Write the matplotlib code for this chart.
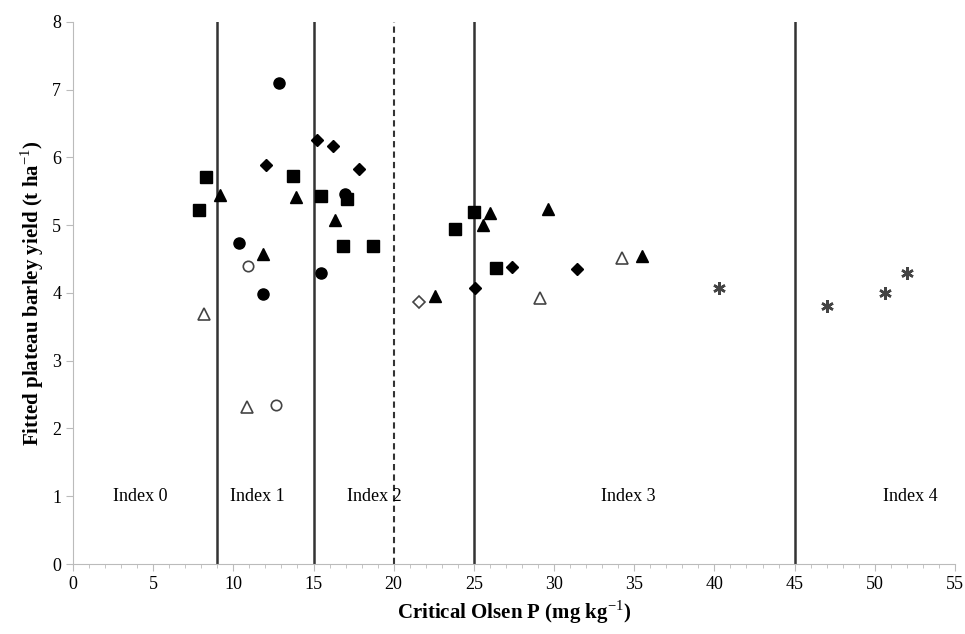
import matplotlib
matplotlib.use('Agg')
import matplotlib.pyplot as plt
from matplotlib.ticker import MultipleLocator

plt.rcParams['font.family'] = ['Liberation Serif', 'DejaVu Serif']
plt.rcParams['mathtext.fontset'] = 'custom'
plt.rcParams['mathtext.rm'] = 'Liberation Serif'
plt.rcParams['mathtext.bf'] = 'Liberation Serif:bold'

# critical Olsen P (x) and plateau yield (y) per site group
sq_x = [7.86, 8.29, 13.72, 15.46, 17.1, 16.83, 18.7, 25.0, 23.84, 26.4]
sq_y = [5.22, 5.71, 5.73, 5.43, 5.38, 4.69, 4.69, 5.20, 4.94, 4.37]

circ_x = [12.84, 10.35, 11.85, 15.46, 16.96]
circ_y = [7.10, 4.74, 3.99, 4.30, 5.46]

tri_x = [9.16, 13.9, 11.86, 16.33, 22.55, 26.0, 25.6, 29.6, 35.47]
tri_y = [5.45, 5.41, 4.57, 5.08, 3.96, 5.18, 5.00, 5.24, 4.55]

dia_x = [12.03, 15.23, 16.19, 17.81, 27.4, 31.42, 25.1]
dia_y = [5.89, 6.26, 6.17, 5.83, 4.38, 4.36, 4.08]

odia_x = [21.57]
odia_y = [3.87]

otri_x = [8.17, 10.85, 29.1, 34.25]
otri_y = [3.69, 2.32, 3.92, 4.51]

ocirc_x = [10.93, 12.66]
ocirc_y = [4.40, 2.35]

star_x = [40.3, 47.03, 50.62, 52.0]
star_y = [4.08, 3.81, 4.00, 4.29]

# index boundaries
bounds = [9, 15, 25, 45]
dashed_bound = 20
index_names = ['Index 0', 'Index 1', 'Index 2', 'Index 3', 'Index 4']
index_x = [4.2, 11.5, 18.8, 34.6, 52.2]
index_y = 1.0

fig = plt.figure(figsize=(9.65, 6.34), dpi=100)
ax = fig.add_axes([0.0756, 0.1104, 0.914, 0.855])

for b in bounds:
    ax.axvline(b, color='#333333', lw=1.8, zorder=1)
ax.axvline(dashed_bound, color='#333333', lw=1.5, ls=(0, (3, 2)), zorder=1)

ax.plot(sq_x, sq_y, 's', color='black', ms=8, ls='none')
ax.plot(circ_x, circ_y, 'o', color='black', ms=8, ls='none')
ax.plot(tri_x, tri_y, '^', color='black', ms=8, ls='none')
ax.plot(dia_x, dia_y, 'D', color='black', ms=6.5, ls='none')
ax.plot(odia_x, odia_y, 'D', mfc='white', mec='#444444', mew=1.2, ms=6, ls='none')
ax.plot(otri_x, otri_y, '^', mfc='white', mec='#444444', mew=1.2, ms=8, ls='none')
ax.plot(ocirc_x, ocirc_y, 'o', mfc='white', mec='#444444', mew=1.2, ms=7.5, ls='none')
ax.plot(star_x, star_y, marker=(6, 2, 0), color='#444444', mew=1.8, ms=9, ls='none')

for name, x in zip(index_names, index_x):
    ax.text(x, index_y, name, fontsize=13, ha='center', va='center')

ax.set_xlim(0, 55)
ax.set_ylim(0, 8)
ax.xaxis.set_major_locator(MultipleLocator(5))
ax.xaxis.set_minor_locator(MultipleLocator(1))
ax.yaxis.set_major_locator(MultipleLocator(1))

for s in ['top', 'right']:
    ax.spines[s].set_visible(False)
for s in ['left', 'bottom']:
    ax.spines[s].set_color('#bbbbbb')
ax.tick_params(which='both', direction='out', color='#bbbbbb', labelsize=13)
ax.tick_params(which='major', length=5)
ax.tick_params(which='minor', length=3)

ax.set_xlabel('Critical Olsen P (mg kg$^{-1}$)', fontsize=15, fontweight='bold')
ax.set_ylabel('Fitted plateau barley yield (t ha$^{-1}$)', fontsize=15, fontweight='bold')

plt.savefig('out.png', dpi=100)
